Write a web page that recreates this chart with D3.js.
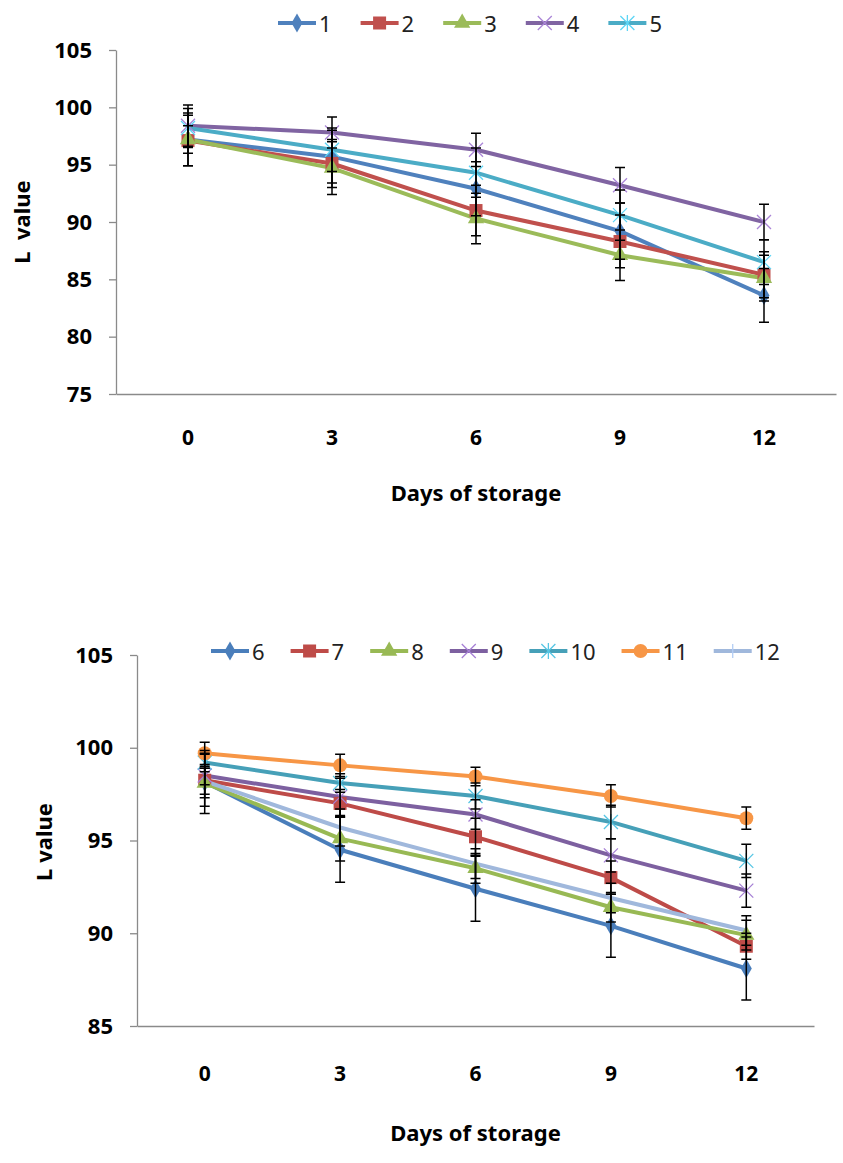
<!DOCTYPE html>
<html><head><meta charset="utf-8">
<script src="https://cdn.jsdelivr.net/npm/d3@7"></script>
<style>
html,body{margin:0;padding:0;background:#fff;}
svg text{font-family:"Noto Sans","Open Sans","DejaVu Sans",sans-serif;}
</style></head>
<body>
<svg id="chart" width="843" height="1163"></svg>
<script>
// ---------- DATA ----------
const days = ["0", "3", "6", "9", "12"];

// Upper panel
const topNames = ["1", "2", "3", "4", "5"];
const top1 = [97.2, 95.7, 92.9, 89.2, 83.6];
const top2 = [97.1, 95.1, 91.0, 88.3, 85.4];
const top3 = [97.2, 94.7, 90.3, 87.1, 85.1];
const top4 = [98.4, 97.8, 96.3, 93.2, 90.0];
const top5 = [98.2, 96.3, 94.3, 90.6, 86.5];
const topErr1 = [2.3, 2.3, 2.35, 2.45, 2.35];
const topErr2 = [2.2, 2.1, 2.2, 2.3, 2.0];
const topErr3 = [1.2, 2.3, 2.2, 2.2, 2.0];
const topErr4 = [1.8, 1.35, 1.45, 1.55, 1.55];
const topErr5 = [1.7, 1.9, 2.15, 2.2, 1.95];
const topTicks = [75, 80, 85, 90, 95, 100, 105];

// Lower panel
const botNames = ["6", "7", "8", "9", "10", "11", "12"];
const bot6 = [98.15, 94.5, 92.4, 90.4, 88.1];
const bot7 = [98.25, 97.0, 95.2, 93.0, 89.3];
const bot8 = [98.1, 95.1, 93.5, 91.4, 89.9];
const bot9 = [98.5, 97.35, 96.4, 94.2, 92.3];
const bot10 = [99.2, 98.1, 97.4, 96.0, 93.9];
const bot11 = [99.7, 99.05, 98.45, 97.4, 96.2];
const bot12 = [98.2, 95.7, 93.75, 91.9, 90.15];
const botErr6 = [1.7, 1.75, 1.75, 1.7, 1.7];
const botErr7 = [1.4, 0.75, 1.0, 0.9, 0.7];
const botErr8 = [0.8, 1.2, 0.8, 0.8, 0.8];
const botErr9 = [0.5, 1.0, 0.8, 0.9, 0.9];
const botErr10 = [0.5, 0.5, 0.7, 0.9, 0.9];
const botErr11 = [0.6, 0.6, 0.5, 0.6, 0.6];
const botErr12 = [0.7, 1.0, 0.8, 0.8, 0.8];
const botTicks = [85, 90, 95, 100, 105];

const xTitle = "Days of storage";

// ---------- DRAW ----------
const svg = d3.select("#chart");

function marker(g, type, color, cx, cy) {
  if (type === "diamond") {
    g.append("path").attr("d", d3.symbol(d3.symbolDiamond, 105)()).attr("transform", `translate(${cx},${cy})`).attr("fill", color);
  } else if (type === "square") {
    g.append("rect").attr("x", cx - 6.5).attr("y", cy - 6.5).attr("width", 13).attr("height", 13).attr("fill", color);
  } else if (type === "triangle") {
    g.append("path").attr("d", d3.symbol(d3.symbolTriangle, 115)()).attr("transform", `translate(${cx},${cy})`).attr("fill", color);
  } else if (type === "circle") {
    g.append("circle").attr("cx", cx).attr("cy", cy).attr("r", 7).attr("fill", color);
  } else if (type === "x") {
    const s = 7;
    g.append("path").attr("d", `M${cx - s},${cy - s}L${cx + s},${cy + s}M${cx - s},${cy + s}L${cx + s},${cy - s}`)
      .attr("stroke", d3.color(color).brighter(0.8)).attr("stroke-width", 1.3).attr("fill", "none");
  } else if (type === "star") {
    const s = 7;
    g.append("path").attr("d", `M${cx - s},${cy - s}L${cx + s},${cy + s}M${cx - s},${cy + s}L${cx + s},${cy - s}M${cx},${cy - s - 1}L${cx},${cy + s + 1}`)
      .attr("stroke", d3.color(color).brighter(0.6)).attr("stroke-width", 1.3).attr("fill", "none");
  } else if (type === "plus") {
    const s = 7;
    g.append("path").attr("d", `M${cx},${cy - s}L${cx},${cy + s}`)
      .attr("stroke", d3.color(color).brighter(0.3)).attr("stroke-width", 1.3).attr("fill", "none");
  }
}

function drawPanel(cfg) {
  const g = svg.append("g");
  const x = d3.scaleBand().domain(days).range([cfg.left, cfg.right]);
  const y = d3.scaleLinear().domain(cfg.domain).range([cfg.bottom, cfg.top]);

  // y axis
  const ya = g.append("g").attr("transform", `translate(${cfg.left},0)`)
    .call(d3.axisLeft(y).tickValues(cfg.ticks).tickSize(7).tickSizeOuter(0).tickPadding(17));
  ya.select(".domain").attr("stroke", "#8a8a8a").attr("stroke-width", 1.3);
  ya.selectAll(".tick line").attr("stroke", "#8a8a8a").attr("stroke-width", 1.3);
  ya.selectAll(".tick text").attr("font-size", 22).attr("font-weight", "bold").attr("fill", "#000")
    .attr("font-family", "'Noto Sans','DejaVu Sans',sans-serif");

  // x axis
  const xa = g.append("g").attr("transform", `translate(0,${cfg.bottom})`)
    .call(d3.axisBottom(x).tickSize(0).tickSizeOuter(0).tickPadding(cfg.xLabelPad));
  xa.select(".domain").attr("stroke", "#8a8a8a").attr("stroke-width", 1.3);
  xa.selectAll(".tick text").attr("font-size", 21).attr("font-weight", "bold").attr("fill", "#000")
    .attr("font-family", "'Noto Sans','DejaVu Sans',sans-serif");

  // titles
  g.append("text").attr("x", (cfg.left + cfg.right) / 2).attr("y", cfg.xTitleY).attr("text-anchor", "middle")
    .attr("font-size", 22).attr("font-weight", "bold").attr("fill", "#000").text(xTitle);
  g.append("text").attr("transform", `translate(${cfg.yTitleX},${cfg.yTitleY}) rotate(-90)`).attr("text-anchor", "middle")
    .attr("font-size", 22).attr("font-weight", "bold").attr("fill", "#000").attr("xml:space", "preserve").style("white-space", "pre").text(cfg.yTitle);

  const cx = d => x(d) + x.bandwidth() / 2;
  const line = d3.line().x((v, i) => cx(days[i])).y(v => y(v));

  // lines
  cfg.series.forEach(s => {
    g.append("path").attr("d", line(s.values)).attr("fill", "none").attr("stroke", s.color)
      .attr("stroke-width", 4).attr("stroke-linejoin", "round");
  });
  // markers
  cfg.series.forEach(s => {
    s.values.forEach((v, i) => marker(g, s.marker, s.color, cx(days[i]), y(v)));
  });
  // error bars
  cfg.series.forEach(s => {
    s.values.forEach((v, i) => {
      const px = cx(days[i]);
      const y1 = y(v + s.err[i]), y2 = y(v - s.err[i]);
      g.append("path").attr("d", `M${px},${y1}L${px},${y2}M${px - 5},${y1}L${px + 5},${y1}M${px - 5},${y2}L${px + 5},${y2}`)
        .attr("stroke", "#000").attr("stroke-width", 1.5).attr("fill", "none");
    });
  });

  // legend
  const lg = g.append("g");
  let lx = cfg.legendX;
  cfg.series.forEach(s => {
    lg.append("line").attr("x1", lx).attr("x2", lx + 38).attr("y1", cfg.legendY).attr("y2", cfg.legendY)
      .attr("stroke", s.color).attr("stroke-width", 4);
    marker(lg, s.marker, s.color, lx + 19, cfg.legendY);
    const t = lg.append("text").attr("x", lx + 41).attr("y", cfg.legendY + 9).attr("font-size", 22)
      .attr("fill", "#222").text(s.name);
    const w = t.node().getComputedTextLength();
    lx += 41 + w + cfg.legendGap;
  });
}

drawPanel({
  left: 116, right: 836, top: 50, bottom: 394, domain: [75, 105], ticks: topTicks,
  xLabelPad: 36, xTitleY: 501, yTitle: "L  value", yTitleX: 30, yTitleY: 222,
  legendX: 278, legendY: 23, legendGap: 29,
  series: [
    {name: topNames[0], values: top1, err: topErr1, color: "#4F81BD", marker: "diamond"},
    {name: topNames[1], values: top2, err: topErr2, color: "#C0504D", marker: "square"},
    {name: topNames[2], values: top3, err: topErr3, color: "#9BBB59", marker: "triangle"},
    {name: topNames[3], values: top4, err: topErr4, color: "#8064A2", marker: "x"},
    {name: topNames[4], values: top5, err: topErr5, color: "#4BACC6", marker: "star"}
  ]
});

drawPanel({
  left: 137, right: 814, top: 655, bottom: 1026, domain: [85, 105], ticks: botTicks,
  xLabelPad: 40, xTitleY: 1141, yTitle: "L value", yTitleX: 52, yTitleY: 842,
  legendX: 211, legendY: 651, legendGap: 26,
  series: [
    {name: botNames[0], values: bot6, err: botErr6, color: "#4A7EBB", marker: "diamond"},
    {name: botNames[1], values: bot7, err: botErr7, color: "#BE4B48", marker: "square"},
    {name: botNames[2], values: bot8, err: botErr8, color: "#98B954", marker: "triangle"},
    {name: botNames[3], values: bot9, err: botErr9, color: "#7D60A0", marker: "x"},
    {name: botNames[4], values: bot10, err: botErr10, color: "#46A0B8", marker: "star"},
    {name: botNames[5], values: bot11, err: botErr11, color: "#F79646", marker: "circle"},
    {name: botNames[6], values: bot12, err: botErr12, color: "#A0B8DC", marker: "plus"}
  ]
});
</script>
</body></html>
